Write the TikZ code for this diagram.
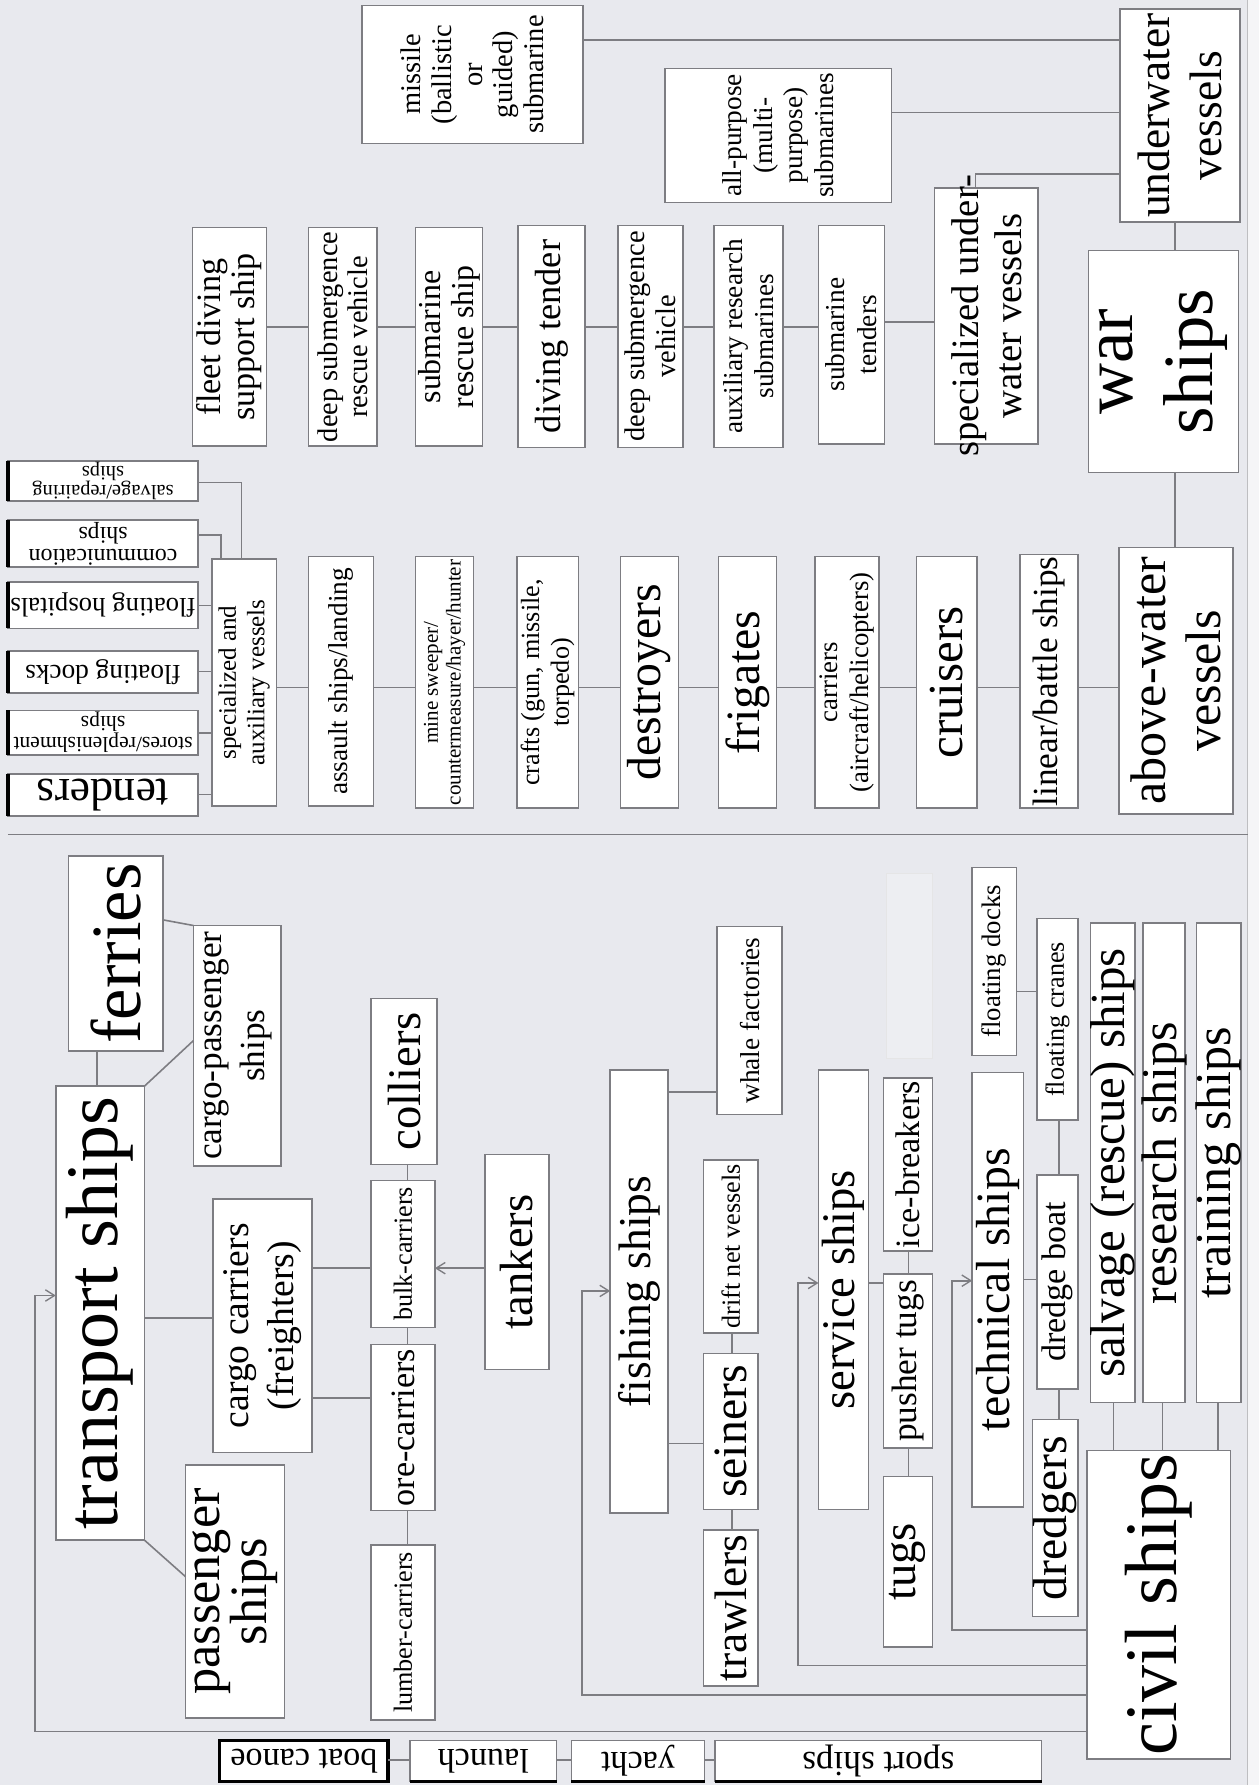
\documentclass[tikz,border=0pt]{standalone}
\usepackage{fontspec}
\setmainfont{Liberation Serif}
\usetikzlibrary{arrows.meta}
\definecolor{paper}{RGB}{232,233,238}
\definecolor{edge}{RGB}{125,125,130}
\tikzset{
 boxs/.style={draw=edge, fill=white, line width=1.4pt, inner sep=0pt, outer sep=0pt},
 ghostbox/.style={draw=edge!20, fill=white, fill opacity=0.25, line width=1pt, inner sep=0pt, outer sep=0pt},
 lbl/.style={inner sep=0pt, outer sep=0pt, align=center, text=black},
 ln/.style={draw=edge, line width=1.4pt},
 arr/.style={ln, -{Straight Barb[length=8pt,width=10pt,line width=1.2pt]}},
 blackedge/.style={draw=black, line width=3pt},
}
% name, x1, y1, x2, y2, rotation, font size, leading, text
\newcommand{\bx}[9]{%
 \node[boxs, anchor=north west, minimum width={#4pt-#2pt}, minimum height={#5pt-#3pt}] (#1) at (#2,#3) {};
 \node[lbl, rotate=#6, font=\fontsize{#7}{#8}\selectfont] (#1-t) at (#1.center) {#9};
}
\begin{document}
\begin{tikzpicture}[x=1pt,y=-1pt]
\useasboundingbox (0,0) rectangle (1106,1568);
\fill[paper] (0,0) rectangle (1106,1568);
\fill[white!55!paper] (1096,0) rectangle (1106,1568);
\draw[edge!50, line width=1pt] (1096,0) -- (1096,1568);

% ---------------- war ships side ----------------
\bx{missile}{318}{5}{512}{126}{90}{25}{27}{missile\\(ballistic\\or\\guided)\\submarine}
\bx{allp}{584}{60}{783}{178}{90}{24}{27}{all-purpose\\(multi-\\purpose)\\submarines}
\bx{under}{984}{8}{1089}{195}{90}{40}{46}{underwater\\vessels}
\bx{fleet}{169}{200}{234}{392}{90}{30}{30}{fleet diving\\support ship}
\bx{dsrv}{271}{200}{331}{392}{90}{25}{27}{deep submergence\\rescue vehicle}
\bx{srs}{365}{200}{424}{392}{90}{28}{29}{submarine\\rescue ship}
\bx{dtend}{455}{198}{514}{393}{90}{32}{36}{diving tender}
\bx{dsv}{543}{198}{600}{393}{90}{25}{27}{deep submergence\\vehicle}
\bx{ars}{627}{198}{688}{393}{90}{24}{27}{auxiliary research\\submarines}
\bx{subt}{719}{198}{777}{390}{90}{24}{28}{submarine\\tenders}
\bx{spu}{821}{165}{912}{390}{90}{34}{38}{specialized under-\\water vessels}
\bx{war}{956}{220}{1088}{415}{90}{62}{70}{war\\ships}

\bx{spaux}{186}{491}{243}{708}{90}{22}{25}{specialized and\\auxiliary vessels}
\bx{assault}{271}{489}{328}{708}{90}{24}{28}{assault ships/landing}
\bx{mine}{365}{489}{416}{710}{90}{18.5}{20}{mine sweeper/\\countermeasure/hayer/hunter}
\bx{crafts}{454}{489}{508}{710}{90}{23}{26}{crafts (gun, missile,\\torpedo)}
\bx{destr}{545}{489}{596}{710}{90}{42}{48}{destroyers}
\bx{frig}{631}{489}{682}{710}{90}{42}{48}{frigates}
\bx{carr}{716}{489}{772}{710}{90}{23.5}{27}{carriers\\(aircraft/helicopters)}
\bx{cruis}{805}{489}{858}{710}{90}{43}{48}{cruisers}
\bx{linear}{896}{487}{947}{710}{90}{31}{36}{linear/battle ships}
\bx{abv}{983}{481}{1083}{715}{90}{44}{48}{above-water\\vessels}

\bx{salv}{7}{405}{174}{440}{180}{18}{17}{salvage/repairing\\ships}
\bx{comm}{7}{457}{174}{498}{180}{21}{19}{communication\\ships}
\bx{fhosp}{7}{511}{174}{552}{180}{23.5}{26}{floating hospitals}
\bx{fdocks}{7}{572}{174}{609}{180}{24}{26}{floating docks}
\bx{stores}{7}{624}{174}{663}{180}{19}{17}{stores/replenishment\\ships}
\bx{tenders}{7}{680}{174}{717}{180}{40}{44}{tenders}
\foreach \s in {salv,comm,fhosp,fdocks,stores,tenders}
  \draw[blackedge] (\s.north west) -- (\s.south west);

% war connectors
\draw[ln] (missile.east |- 0,35) -- (under.west |- 0,35);
\draw[ln] (allp.east |- 0,99) -- (under.west |- 0,99);
\draw[ln] (spu.north -| 857,0) |- (under.west |- 0,153);
\foreach \a/\b in {fleet/dsrv,dsrv/srs,srs/dtend,dtend/dsv,dsv/ars,ars/subt}
  \draw[ln] (\a.east |- 0,287) -- (\b.west |- 0,287);
\draw[ln] (subt.east |- 0,283) -- (spu.west |- 0,283);
\draw[ln] (under.south -| 1032,0) -- (war.north -| 1032,0);
\draw[ln] (war.south -| 1032,0) -- (abv.north -| 1032,0);
\foreach \a/\b in {spaux/assault,assault/mine,mine/crafts,crafts/destr,destr/frig,frig/carr,carr/cruis,cruis/linear,linear/abv}
  \draw[ln] (\a.east |- 0,604) -- (\b.west |- 0,604);
\draw[ln] (tenders.east |- 0,698) -- (spaux.west |- 0,698);
\draw[ln] (stores.east |- 0,644) -- (spaux.west |- 0,644);
\draw[ln] (fdocks.east |- 0,590) -- (spaux.west |- 0,590);
\draw[ln] (fhosp.east |- 0,532) -- (spaux.west |- 0,532);
\draw[ln] (comm.east |- 0,470) -| (spaux.north -| 194,0);
\draw[ln] (salv.east |- 0,424) -| (spaux.north -| 212,0);

% divider
\draw[ln] (7,733) -- (1096,733);

% ---------------- civil ships side ----------------
\bx{ferries}{60}{752}{143}{923}{90}{62}{70}{ferries}
\bx{transport}{49}{954}{127}{1353}{90}{65}{70}{transport ships}
\bx{cp}{170}{813}{247}{1024}{90}{31}{38}{cargo-passenger\\ships}
\bx{cc}{187}{1053}{274}{1276}{90}{33}{40}{cargo carriers\\(freighters)}
\bx{pass}{163}{1287}{250}{1509}{90}{46}{42}{passenger\\ships}
\bx{colliers}{326}{877}{384}{1023}{90}{41}{46}{colliers}
\bx{bulk}{326}{1037}{382}{1166}{90}{23}{26}{bulk-carriers}
\bx{ore}{326}{1181}{382}{1327}{90}{30}{34}{ore-carriers}
\bx{lumber}{326}{1357}{382}{1511}{90}{23}{26}{lumber-carriers}
\bx{tankers}{426}{1014}{482}{1203}{90}{41}{46}{tankers}
\bx{fishing}{536}{940}{587}{1329}{90}{40}{46}{fishing ships}
\bx{whale}{630}{814}{687}{979}{90}{24}{28}{whale factories}
\bx{drift}{618}{1019}{666}{1171}{90}{23}{26}{drift net vessels}
\bx{seiners}{618}{1189}{666}{1326}{90}{42}{46}{seiners}
\bx{trawlers}{618}{1344}{666}{1481}{90}{40}{46}{trawlers}
\bx{service}{719}{940}{763}{1326}{90}{41}{46}{service ships}
\node[ghostbox, anchor=north west, minimum width=40pt, minimum height=163pt] (ghost) at (779,767) {};
\bx{icebr}{776}{947}{819}{1099}{90}{30}{34}{ice-breakers}
\bx{pusher}{776}{1119}{819}{1272}{90}{31}{34}{pusher tugs}
\bx{tugs}{776}{1297}{819}{1447}{90}{41}{46}{tugs}
\bx{cfdocks}{854}{762}{893}{927}{90}{23.5}{26}{floating docks}
\bx{tech}{854}{942}{899}{1324}{90}{42}{46}{technical ships}
\bx{cranes}{911}{807}{947}{984}{90}{23}{26}{floating cranes}
\bx{dboat}{911}{1032}{947}{1220}{90}{30}{34}{dredge boat}
\bx{dredgers}{907}{1247}{947}{1420}{90}{42}{46}{dredgers}
\bx{salvage}{958}{811}{997}{1232}{90}{43}{46}{salvage (rescue) ships}
\bx{research}{1004}{811}{1041}{1232}{90}{44}{46}{research ships}
\bx{training}{1051}{811}{1090}{1232}{90}{44}{46}{training ships}
\bx{civil}{955}{1274}{1081}{1545}{90}{65}{70}{civil ships}

\bx{canoe}{193}{1529}{341}{1565}{180}{30}{34}{boat canoe}
\bx{launch}{360}{1529}{489}{1565}{180}{30}{34}{launch}
\bx{yacht}{502}{1529}{619}{1565}{180}{30}{34}{yacht}
\bx{sport}{628}{1529}{915}{1565}{180}{31}{34}{sport ships}
\draw[blackedge] (canoe.north west) rectangle (canoe.south east);
\foreach \s in {launch,yacht,sport}
  \draw[blackedge] (\s.south west) -- (\s.south east);

% civil connectors
\draw[ln] (ferries.south -| 85,0) -- (transport.north -| 85,0);
\draw[ln] (transport.north east) -- (cp.west |- 0,914);
\draw[ln] (ferries.east |- 0,808) -- (cp.north west);
\draw[ln] (transport.south east) -- (pass.west |- 0,1385);
\draw[ln] (transport.east |- 0,1158) -- (cc.west |- 0,1158);
\draw[ln] (cc.east |- 0,1114) -- (bulk.west |- 0,1114);
\draw[ln] (cc.east |- 0,1228) -- (ore.west |- 0,1228);
\draw[ln] (colliers.south -| 358,0) -- (bulk.north -| 358,0);
\draw[ln] (bulk.south -| 358,0) -- (ore.north -| 358,0);
\draw[ln] (ore.south -| 358,0) -- (lumber.north -| 358,0);
\draw[arr] (tankers.west |- 0,1114) -- (bulk.east |- 0,1114);

\draw[arr] (civil.west |- 0,1521) -| (31,1138) -- (transport.west |- 0,1138);
\draw[arr] (civil.west |- 0,1489) -| (511,1134) -- (fishing.west |- 0,1134);
\draw[arr] (civil.west |- 0,1463) -| (701,1127) -- (service.west |- 0,1127);
\draw[arr] (civil.west |- 0,1432) -| (836,1125) -- (tech.west |- 0,1125);

\draw[ln] (fishing.east |- 0,959) -- (whale.west |- 0,959);
\draw[ln] (fishing.east |- 0,1268) -- (seiners.west |- 0,1268);
\draw[ln] (drift.south -| 643,0) -- (seiners.north -| 643,0);
\draw[ln] (seiners.south -| 643,0) -- (trawlers.north -| 643,0);
\draw[ln] (service.east |- 0,1127) -- (pusher.west |- 0,1127);
\draw[ln] (icebr.south -| 798,0) -- (pusher.north -| 798,0);
\draw[ln] (pusher.south -| 798,0) -- (tugs.north -| 798,0);
\draw[ln] (tech.east |- 0,1124) -- (dboat.west |- 0,1124);
\draw[ln] (cfdocks.east |- 0,871) -- (cranes.west |- 0,871);
\draw[ln] (cranes.south -| 930,0) -- (dboat.north -| 930,0);
\draw[ln] (dboat.south -| 930,0) -- (dredgers.north -| 930,0);
\draw[ln] (salvage.south -| 978,0) -- (civil.north -| 978,0);
\draw[ln] (research.south -| 1021,0) -- (civil.north -| 1021,0);
\draw[ln] (training.south -| 1070,0) -- (civil.north -| 1070,0);
\draw[ln] (canoe.east |- 0,1546) -- (launch.west |- 0,1546);
\draw[ln] (launch.east |- 0,1546) -- (yacht.west |- 0,1546);
\draw[ln] (yacht.east |- 0,1546) -- (sport.west |- 0,1546);
\end{tikzpicture}
\end{document}
